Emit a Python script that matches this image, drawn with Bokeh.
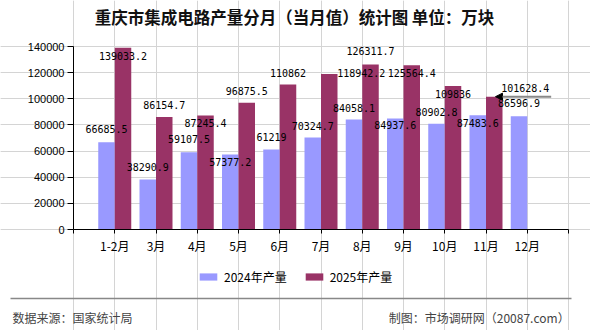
from bokeh.plotting import figure
from bokeh.models import (ColumnDataSource, FixedTicker, Legend, LegendItem, Label,
                          Arrow, NormalHead, BasicTickFormatter, Range1d, LinearAxis,
                          Grid, BoxAnnotation)
from bokeh.core.properties import value
from bokeh.embed import file_html
from bokeh.resources import INLINE

# ---- data (万块) ----
months = ["1-2月", "3月", "4月", "5月", "6月", "7月", "8月", "9月", "10月", "11月", "12月"]
output_2024 = [66685.5, 38290.9, 59107.5, 57377.2, 61219, 70324.7, 84058.1, 84937.6,
               80902.8, 87483.6, 86596.9]
output_2025 = [139033.2, 86154.7, 87245.4, 96875.5, 110862, 118942.2, 126311.7, 125564.4,
               109836, 101628.4]
y_ticks = [0, 20000, 40000, 60000, 80000, 100000, 120000, 140000]
series_names = ["2024年产量", "2025年产量"]

title_text = "重庆市集成电路产量分月（当月值）统计图 单位：万块"
source_text = "数据来源：国家统计局"
credit_text = "制图：市场调研网（20087.com）"

# ---- label placement (screen px, negative = above the bar top) ----
dy_2024 = [-13, -12, -13, 8, -12, -12, -12, 7, -12, 8, -13]
dy_2025 = [8, -12, 8, -12, -12, -1, -13, 8, 8, -9]
dx_2025 = [0, 0, 0, 0, 0, 32, 0, 0, 0, 31]

C_2024 = "#9999FF"
C_2025 = "#993366"
CJK = "Noto Sans CJK SC"

# ---- page geometry (px) ----
W, H = 590, 330
PLOT_L, PLOT_R, PLOT_T, PLOT_B = 73, 568, 46, 229


def fmt(v):
    return ("%.1f" % v).rstrip("0").rstrip(".")


half = 0.2
pos = [i + 1 for i in range(len(months))]
x_lo, x_hi = 0, len(months) + 1
y_lo, y_hi = 0, y_ticks[-1]

# ranges chosen so the axes box lands on the PLOT_* rectangle of the page
sx = (PLOT_R - PLOT_L) / (x_hi - x_lo)
sy = (PLOT_B - PLOT_T) / (y_hi - y_lo)
x_range = Range1d(x_lo - PLOT_L / sx, x_hi + (W - PLOT_R) / sx)
y_range = Range1d(y_lo - (H - PLOT_B) / sy, y_hi + PLOT_T / sy)

src24 = ColumnDataSource(dict(
    x=[p - half for p in pos[:len(output_2024)]],
    top=output_2024,
    label=[fmt(v) for v in output_2024],
    dx=[0] * len(output_2024),
    dy=dy_2024,
))
src25 = ColumnDataSource(dict(
    x=[p + half for p in pos[:len(output_2025)]],
    top=output_2025,
    label=[fmt(v) for v in output_2025],
    dx=dx_2025,
    dy=dy_2025,
))

p = figure(width=W, height=H, x_range=x_range, y_range=y_range,
           x_axis_location=None, y_axis_location=None,
           output_backend="svg", toolbar_location=None,
           min_border_left=0, min_border_right=0, min_border_top=0, min_border_bottom=0)
p.outline_line_color = None
p.background_fill_color = "white"
p.border_fill_color = "white"

x_ticks = list(range(x_lo, x_hi + 1))
overrides = {t: "" for t in x_ticks}
for pp, m in zip(pos, months):
    overrides[pp] = m

# grid limited to the axes box
p.add_layout(Grid(dimension=0, ticker=FixedTicker(ticks=x_ticks), bounds=(y_lo, y_hi),
                  grid_line_color="#d4d4d4", grid_line_width=1))
p.add_layout(Grid(dimension=1, ticker=FixedTicker(ticks=y_ticks), bounds=(x_lo, x_hi),
                  grid_line_color="#d4d4d4", grid_line_width=1))

xaxis = LinearAxis(fixed_location=y_lo, bounds=(x_lo, x_hi),
                   ticker=FixedTicker(ticks=x_ticks), major_label_overrides=overrides,
                   major_tick_out=4, major_tick_in=0, minor_tick_out=0, minor_tick_in=0,
                   major_label_standoff=3, major_label_text_font=CJK,
                   major_label_text_font_size="12px", major_label_text_color="black",
                   axis_line_color="black", major_tick_line_color="black")
yaxis = LinearAxis(fixed_location=x_lo, bounds=(y_lo, y_hi),
                   ticker=FixedTicker(ticks=y_ticks),
                   formatter=BasicTickFormatter(use_scientific=False),
                   major_tick_out=6, major_tick_in=0, minor_tick_out=0, minor_tick_in=0,
                   major_label_standoff=3, major_label_text_font="Liberation Sans",
                   major_label_text_font_size="11px", major_label_text_color="black",
                   axis_line_color="black", major_tick_line_color="black")
p.add_layout(xaxis, "below")
p.add_layout(yaxis, "left")

r24 = p.vbar(x="x", top="top", width=2 * half, source=src24,
             fill_color=C_2024, line_color=None)
r25 = p.vbar(x="x", top="top", width=2 * half, source=src25,
             fill_color=C_2025, line_color=None)

for src in (src24, src25):
    p.text(x="x", y="top", text="label", x_offset="dx", y_offset="dy", source=src,
           text_align="center", text_baseline="middle",
           text_font=value("DejaVu Sans Mono"), text_font_size="10px",
           text_color="black")

# pointer to the latest month of 2025
last = len(output_2025) - 1
tip_x = pos[last] + half + 0.03
p.add_layout(Arrow(end=NormalHead(size=7, fill_color="black", line_color="black"),
                   x_start=tip_x + 1.35, y_start=output_2025[last],
                   x_end=tip_x, y_end=output_2025[last],
                   line_color="#888888", line_width=2))

# title (screen units: x from left, y from bottom of the page)
p.add_layout(Label(x=294, y=H - 16, x_units="screen", y_units="screen", text=title_text,
                   text_align="center", text_baseline="middle", text_font=CJK,
                   text_font_style="bold", text_font_size="16.5px", text_color="#111111"))

legend = Legend(items=[LegendItem(label=series_names[0], renderers=[r24]),
                       LegendItem(label=series_names[1], renderers=[r25])],
                orientation="horizontal", location=(197, H - 285),
                glyph_width=22, glyph_height=9, label_height=14, label_standoff=5,
                spacing=16, padding=0, margin=0,
                label_text_font=CJK, label_text_font_size="12px",
                label_text_color="black",
                border_line_alpha=0, background_fill_alpha=0)
p.add_layout(legend)

# footer rule and credits
p.add_layout(BoxAnnotation(left=10, right=571, bottom=H - 298.75, top=H - 297.25,
                           left_units="screen", right_units="screen",
                           bottom_units="screen", top_units="screen",
                           fill_color="#888888", fill_alpha=1, line_color=None))
p.add_layout(Label(x=12, y=H - 317, x_units="screen", y_units="screen", text=source_text,
                   text_align="left", text_baseline="middle", text_font=CJK,
                   text_font_size="12px", text_color="#444444"))
p.add_layout(Label(x=569, y=H - 317, x_units="screen", y_units="screen", text=credit_text,
                   text_align="right", text_baseline="middle", text_font=CJK,
                   text_font_size="12px", text_color="#444444"))

open("out.html", "w").write(file_html(p, INLINE))
